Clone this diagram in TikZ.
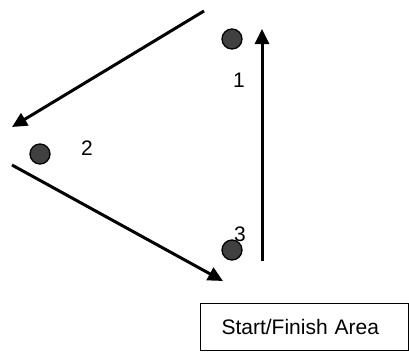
\documentclass[tikz,border=0pt]{standalone}
\usepackage{fontspec}
\setmainfont{Liberation Sans}
\usetikzlibrary{arrows.meta}
\begin{document}
\begin{tikzpicture}[x=1pt,y=-1pt,
  dot/.style={circle,draw=black,line width=1.3pt,fill=black!75,minimum size=20pt,inner sep=0pt},
  lbl/.style={font=\fontsize{21}{25}\selectfont,inner sep=0pt},
  arr/.style={line width=3pt,-{Triangle[length=15pt,width=14pt]}},
  area/.style={draw=black,line width=1pt,minimum height=47pt,inner xsep=21pt,inner ysep=0pt,text width=166pt,align=left,font=\fontsize{21}{25}\selectfont}]
\useasboundingbox (0,0) rectangle (409,351);
\node[dot] (c1) at (232,39) {};
\node[dot] (c2) at (40,154) {};
\node[dot] (c3) at (232,250) {};
\node[lbl] (l1) at (239,80) {1};
\node[lbl] (l2) at (87,148) {2};
\node[lbl] (l3) at (240,234) {3};
\coordinate (a1s) at (204,11);
\coordinate (a1e) at (12,127);
\coordinate (a2s) at (12,165);
\coordinate (a2e) at (223,281);
\coordinate (a3s) at (262,261);
\coordinate (a3e) at (262,29);
\draw[arr] (a1s) -- (a1e);
\draw[arr] (a2s) -- (a2e);
\draw[arr] (a3s) -- (a3e);
\node[area,anchor=west] (box) at (200,327) {Start/Finish Area};
\end{tikzpicture}
\end{document}
